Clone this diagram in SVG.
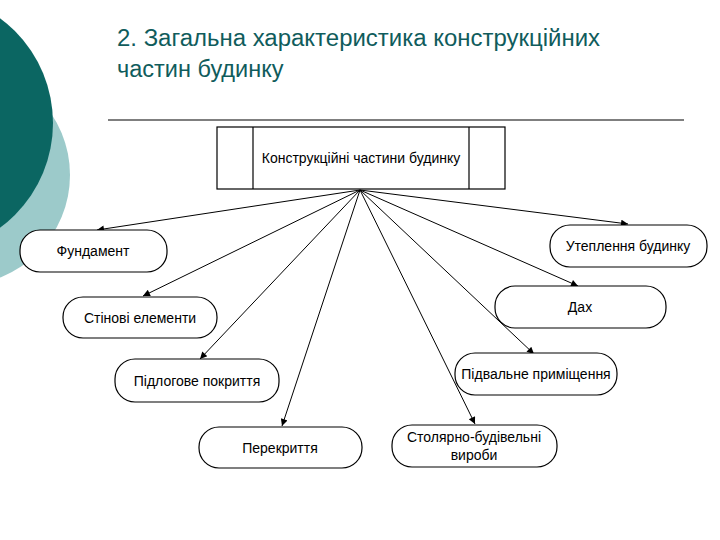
<svg xmlns="http://www.w3.org/2000/svg" width="720" height="540" viewBox="0 0 720 540">
<defs>
<style>
.title{font-family:"Liberation Sans",Arial,sans-serif;font-size:23.5px;fill:#105c5c}
.node rect{fill:#fff;stroke:#000;stroke-width:1.2}
.node text{font-family:"Liberation Sans",Arial,sans-serif;font-size:14px;fill:#000;text-anchor:middle}
.conn line{stroke:#000;stroke-width:1;marker-end:url(#arr)}
</style>
<marker id="arr" viewBox="0 0 10 10" refX="10" refY="5" markerWidth="9" markerHeight="7" markerUnits="userSpaceOnUse" orient="auto">
<path d="M0,0 L10,5 L0,10 Z" fill="#000"/>
</marker>
</defs>
<rect width="720" height="540" fill="#fff"/>
<g id="decor">
<circle cx="-40" cy="175" r="110" fill="#9ccaca"/>
<circle cx="-77" cy="123" r="130" fill="#0b6662"/>
</g>
<g id="title">
<text class="title" x="117" y="46" textLength="483" lengthAdjust="spacingAndGlyphs">2. Загальна характеристика конструкційних</text>
<text class="title" x="117" y="77">частин будинку</text>
<line x1="108" y1="120" x2="684" y2="120" stroke="#000" stroke-width="1.2"/>
</g>
<g id="main" class="node">
<rect x="217" y="127" width="288" height="62" rx="0"/>
<line x1="253" y1="127" x2="253" y2="189" stroke="#000" stroke-width="1.2"/>
<line x1="469" y1="127" x2="469" y2="189" stroke="#000" stroke-width="1.2"/>
<text x="361" y="163">Конструкційні частини будинку</text>
</g>
<g id="conn" class="conn">
<line x1="360" y1="190" x2="97" y2="230"/>
<line x1="360" y1="190" x2="143" y2="296"/>
<line x1="360" y1="190" x2="200" y2="359"/>
<line x1="360" y1="190" x2="282" y2="426"/>
<line x1="360" y1="190" x2="628" y2="224"/>
<line x1="360" y1="190" x2="578" y2="286"/>
<line x1="360" y1="190" x2="534" y2="354"/>
<line x1="360" y1="190" x2="475" y2="424"/>
</g>
<g id="n1" class="node">
<rect x="20" y="230" width="147" height="42" rx="20" ry="20"/>
<text x="93" y="256">Фундамент</text>
</g>
<g id="n2" class="node">
<rect x="63" y="297" width="154" height="41" rx="20" ry="20"/>
<text x="140" y="323">Стінові елементи</text>
</g>
<g id="n3" class="node">
<rect x="115" y="359" width="164" height="43" rx="20" ry="20"/>
<text x="197" y="386">Підлогове  покриття</text>
</g>
<g id="n4" class="node">
<rect x="199" y="427" width="163" height="41" rx="20" ry="20"/>
<text x="280" y="453">Перекриття</text>
</g>
<g id="n5" class="node">
<rect x="550" y="225" width="157" height="42" rx="20" ry="20"/>
<text x="628" y="251">Утеплення будинку</text>
</g>
<g id="n6" class="node">
<rect x="495" y="286" width="171" height="42" rx="20" ry="20"/>
<text x="580" y="312">Дах</text>
</g>
<g id="n7" class="node">
<rect x="455" y="353" width="162" height="42" rx="20" ry="20"/>
<text x="536" y="379">Підвальне приміщення</text>
</g>
<g id="n8" class="node">
<rect x="392" y="425" width="165" height="42" rx="20" ry="20"/>
<text x="474" y="442">Столярно-будівельні</text>
<text x="474" y="460">вироби</text>
</g>
</svg>
